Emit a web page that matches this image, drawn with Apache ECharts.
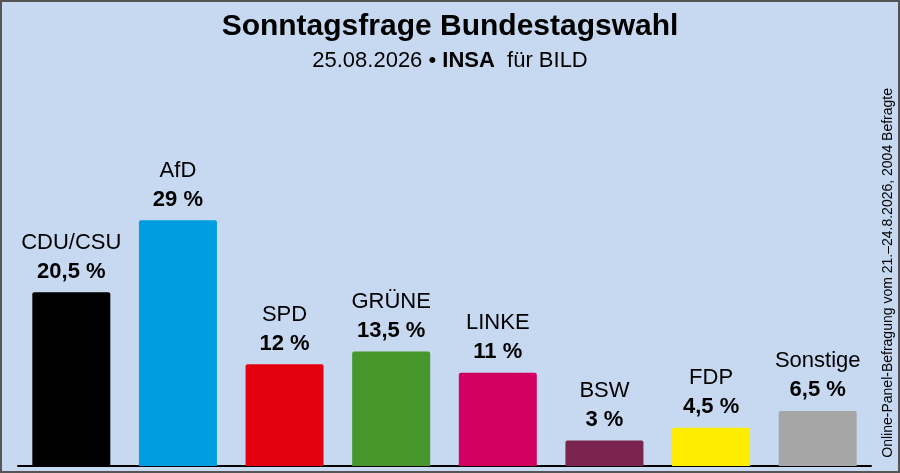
<!DOCTYPE html>
<html>
<head>
<meta charset="utf-8">
<script src="https://cdn.jsdelivr.net/npm/echarts@6/dist/echarts.min.js"></script>
<style>
html,body{margin:0;padding:0;background:#c6d9f0;}
#chart{width:900px;height:473px;}
</style>
</head>
<body>
<div id="chart"></div>
<script>
var parties = ['CDU/CSU', 'AfD', 'SPD', 'GRÜNE', 'LINKE', 'BSW', 'FDP', 'Sonstige'];
var values = [20.5, 29, 12, 13.5, 11, 3, 4.5, 6.5];
var colors = ['#000000', '#009ee0', '#e3000f', '#46962b', '#d20060', '#7b2450', '#ffed00', '#a6a6a6'];

var chart = echarts.init(document.getElementById('chart'));
chart.setOption({
    backgroundColor: '#c6d9f0',
    animation: false,
    title: {
        text: 'Sonntagsfrage Bundestagswahl',
        left: 'center', top: 7,
        textStyle: { fontFamily: 'Liberation Sans', fontSize: 30, fontWeight: 'bold', color: '#000' },
        subtext: '{n|25.08.2026 • }{b|INSA}{n|  für BILD}',
        itemGap: 8,
        subtextStyle: {
            rich: {
                n: { fontFamily: 'Liberation Sans', fontSize: 22, color: '#000' },
                b: { fontFamily: 'Liberation Sans', fontSize: 22, fontWeight: 'bold', color: '#000' }
            }
        }
    },
    grid: { left: 18, right: 29, top: 127, bottom: 7 },
    xAxis: {
        type: 'category', data: parties,
        axisLine: { lineStyle: { color: '#000', width: 2 } },
        axisTick: { show: false }, axisLabel: { show: false }
    },
    yAxis: { type: 'value', min: 0, max: 40, show: false, splitLine: { show: false } },
    series: [{
        type: 'bar', barWidth: 78,
        data: values.map(function (v, i) { return { value: v, itemStyle: { color: colors[i] } }; }),
        itemStyle: { borderRadius: [2, 2, 0, 0] },
        label: {
            show: true, position: 'top', distance: 6,
            formatter: function (p) {
                return '{n|' + p.name + '}\n{v|' + String(p.value).replace('.', ',') + ' %}';
            },
            rich: {
                n: { fontFamily: 'Liberation Sans', fontSize: 22, color: '#000', lineHeight: 29, align: 'center' },
                v: { fontFamily: 'Liberation Sans', fontSize: 22, fontWeight: 'bold', color: '#000', lineHeight: 29, align: 'center' }
            }
        }
    }],
    graphic: [{
        type: 'text', left: 881, top: 88, rotation: Math.PI / 2,
        style: { text: 'Online-Panel-Befragung vom 21.–24.8.2026, 2004 Befragte', font: '14px Liberation Sans', fill: '#000' }
    }, {
        type: 'rect', shape: { x: 1, y: 1, width: 898, height: 471 },
        style: { fill: 'none', stroke: '#555', lineWidth: 2 }
    }]
});
</script>
</body>
</html>
